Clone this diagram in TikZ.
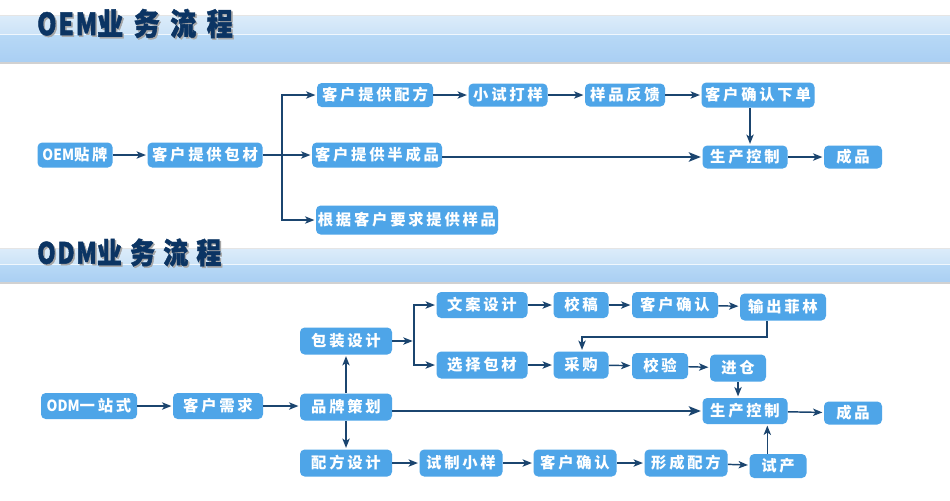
\documentclass[tikz,border=0pt]{standalone}
\usepackage{fontspec}
\usetikzlibrary{arrows.meta}
\newfontfamily\cjk[LetterSpace=18]{Noto Sans CJK SC}
\newfontfamily\nodelat[FakeStretch=0.9]{Noto Sans CJK SC}
\newfontfamily\titlecjkA[FakeStretch=0.85,LetterSpace=34,FakeBold=1.5]{Noto Sans CJK SC}
\newfontfamily\titlecjkB[FakeStretch=0.85,LetterSpace=28,FakeBold=1.5]{Noto Sans CJK SC}
\newfontfamily\titlelat[FakeStretch=0.8,LetterSpace=6,FakeBold=1.5]{Noto Sans CJK SC}
\definecolor{boxblue}{HTML}{4EA5E8}
\definecolor{linenavy}{HTML}{1B456F}
\definecolor{titlenavy}{HTML}{0B3463}
\definecolor{bandtopA}{HTML}{DCECFA}
\definecolor{bandtopB}{HTML}{CCE3F7}
\definecolor{bandbotA}{HTML}{B8D9F6}
\definecolor{bandbotB}{HTML}{AACFF3}
\tikzset{
  box/.style={fill=boxblue, rounded corners=3.5pt, text=white, inner sep=0pt,
    font=\cjk\bfseries\fontsize{11.5pt}{12pt}\selectfont},
  bw/.style={minimum width=#1*0.75pt},
  bh/.style={minimum height=#1*0.75pt},
  arr/.style={draw=linenavy, line width=1.1pt, shorten >=1pt,
    -{Stealth[length=7pt,width=5.5pt,inset=1.8pt]}},
  plain/.style={draw=linenavy, line width=1.1pt},
  thickarr/.style={draw=linenavy, line width=2.2pt, shorten >=1pt,
    -{Stealth[length=9pt,width=7pt,inset=2pt]}},
  title/.style={anchor=west, inner sep=0pt, text=titlenavy},
  titleshadow/.style={anchor=west, inner sep=0pt, text=black!35},
}
\begin{document}
\begin{tikzpicture}[x=0.75pt,y=-0.75pt]
\useasboundingbox (0,0) rectangle (950,500);
\fill[white] (0,0) rectangle (950,500);
% ---------- bands ----------
\shade[top color=bandtopA, bottom color=bandtopB] (0,15) rectangle (950,34);
\shade[top color=bandbotA, bottom color=bandbotB] (0,34) rectangle (950,62);
\draw[black!10, line width=0.75pt] (0,15) -- (950,15);
\draw[white!70!bandtopB, line width=0.6pt] (0,34) -- (950,34);
\draw[black!18, line width=1.2pt] (0,62.8) -- (950,62.8);
\shade[top color=bandtopA, bottom color=bandtopB] (0,248) rectangle (950,264);
\shade[top color=bandbotA, bottom color=bandbotB] (0,264) rectangle (950,282);
\draw[black!10, line width=0.75pt] (0,248) -- (950,248);
\draw[white!70!bandtopB, line width=0.6pt] (0,264) -- (950,264);
\draw[black!18, line width=1.2pt] (0,282.8) -- (950,282.8);
% ---------- titles ----------
\node[titleshadow] at (38.5,25) {\bfseries\fontsize{23pt}{23pt}\selectfont\titlelat OEM\titlecjkA 业务流程};
\node[title] (t1) at (37,23.5) {\bfseries\fontsize{23pt}{23pt}\selectfont\titlelat OEM\titlecjkA 业务流程};
\node[titleshadow] at (38.5,254) {\bfseries\fontsize{22pt}{22pt}\selectfont\titlelat ODM\titlecjkB 业务流程};
\node[title] (t2) at (37,252.5) {\bfseries\fontsize{22pt}{22pt}\selectfont\titlelat ODM\titlecjkB 业务流程};
% ---------- OEM nodes ----------
\node[box,bw=75,bh=25]  (oem) at (75,155)  {{\nodelat OEM}贴牌};
\node[box,bw=115,bh=25] (bc)  at (205,155) {客户提供包材};
\node[box,bw=116,bh=24] (pf)  at (375,95)  {客户提供配方};
\node[box,bw=130,bh=25] (bcp) at (377,155) {客户提供半成品};
\node[box,bw=182,bh=29] (ys)  at (407,220) {根据客户要求提供样品};
\node[box,bw=79,bh=23]  (xs)  at (508,95)  {小试打样};
\node[box,bw=80,bh=23]  (fk)  at (625,95)  {样品反馈};
\node[box,bw=113,bh=25] (qr)  at (758,95)  {客户确认下单};
\node[box,bw=85,bh=23]  (sc)  at (745,157) {生产控制};
\node[box,bw=58,bh=23]  (cp)  at (853,157) {成品};
% ---------- OEM connectors ----------
\coordinate (j1) at (282,155);
\draw[arr] (oem) -- (bc);
\draw[plain] (bc.east) -- (j1);
\draw[arr] (j1) -- (bcp);
\draw[arr] (j1) |- (pf);
\draw[arr] (j1) |- (ys);
\draw[arr] (pf) -- (xs);
\draw[arr] (xs) -- (fk);
\draw[arr] (fk) -- (qr);
\coordinate (qrd) at ([xshift=-6pt]qr.south);
\draw[arr] (qrd) -- (qrd |- sc.north);
\draw[thickarr] (bcp.east |- sc) -- (sc.west);
\draw[arr] (sc) -- (cp);
% ---------- ODM nodes ----------
\node[box,bw=96,bh=26] (odm) at (89,406)  {{\nodelat ODM}一站式};
\node[box,bw=90,bh=26] (xq)  at (218,406) {客户需求};
\node[box,bw=92,bh=27] (pp)  at (346,407) {品牌策划};
\node[box,bw=92,bh=27] (bz)  at (346,341) {包装设计};
\node[box,bw=92,bh=27] (pfs) at (346,463) {配方设计};
\node[box,bw=91,bh=26] (wa)  at (482,305) {文案设计};
\node[box,bw=91,bh=27] (xz)  at (482,365) {选择包材};
\node[box,bw=55,bh=26] (jg)  at (581,305) {校稿};
\node[box,bw=86,bh=26] (kq1) at (675,305) {客户确认};
\node[box,bw=86,bh=27] (sc1) at (783,307) {输出菲林};
\node[box,bw=55,bh=27] (cg)  at (581,365) {采购};
\node[box,bw=56,bh=26] (jy)  at (660,366) {校验};
\node[box,bw=56,bh=27] (jc)  at (738,368) {进仓};
\node[box,bw=85,bh=26] (sc2) at (745,411) {生产控制};
\node[box,bw=58,bh=23] (cp2) at (853,413) {成品};
\node[box,bw=83,bh=27] (sz)  at (461,463) {试制小样};
\node[box,bw=83,bh=27] (kq2) at (575,463) {客户确认};
\node[box,bw=83,bh=27] (xc)  at (686,463) {形成配方};
\node[box,bw=57,bh=24] (sch) at (778,466) {试产};
% ---------- ODM connectors ----------
\draw[arr] (odm) -- (xq);
\draw[arr] (xq.east) -- (pp.west |- xq.east);
\draw[arr] (pp) -- (bz);
\draw[arr] (pp) -- (pfs);
\coordinate (j2) at (414,341);
\draw[arr] (bz.east) -- (j2);
\draw[arr] (j2) |- (wa);
\draw[arr] (j2) |- (xz);
\draw[arr] (wa) -- (jg);
\draw[arr] (jg) -- (kq1);
\draw[arr] (kq1) -- (sc1);
\coordinate (b1) at (767,337);
\coordinate (b2) at (582,337);
\draw[arr] (b1 |- sc1.south) -- (b1) -- (b2) -- (b2 |- cg.north);
\draw[arr] (xz) -- (cg);
\draw[arr] (cg) -- (jy);
\draw[arr] (jy) -- (jc);
\draw[arr] (jc) -- (jc |- sc2.north);
\draw[thickarr] (pp.east |- sc2) -- (sc2.west);
\draw[arr] (sc2) -- (cp2);
\draw[arr] (pfs) -- (sz);
\draw[arr] (sz) -- (kq2);
\draw[arr] (kq2) -- (xc);
\draw[arr] (xc) -- (sch);
\coordinate (sd) at ([xshift=-8pt]sch.north);
\draw[arr] (sd) -- (sd |- sc2.south);
\end{tikzpicture}
\end{document}
